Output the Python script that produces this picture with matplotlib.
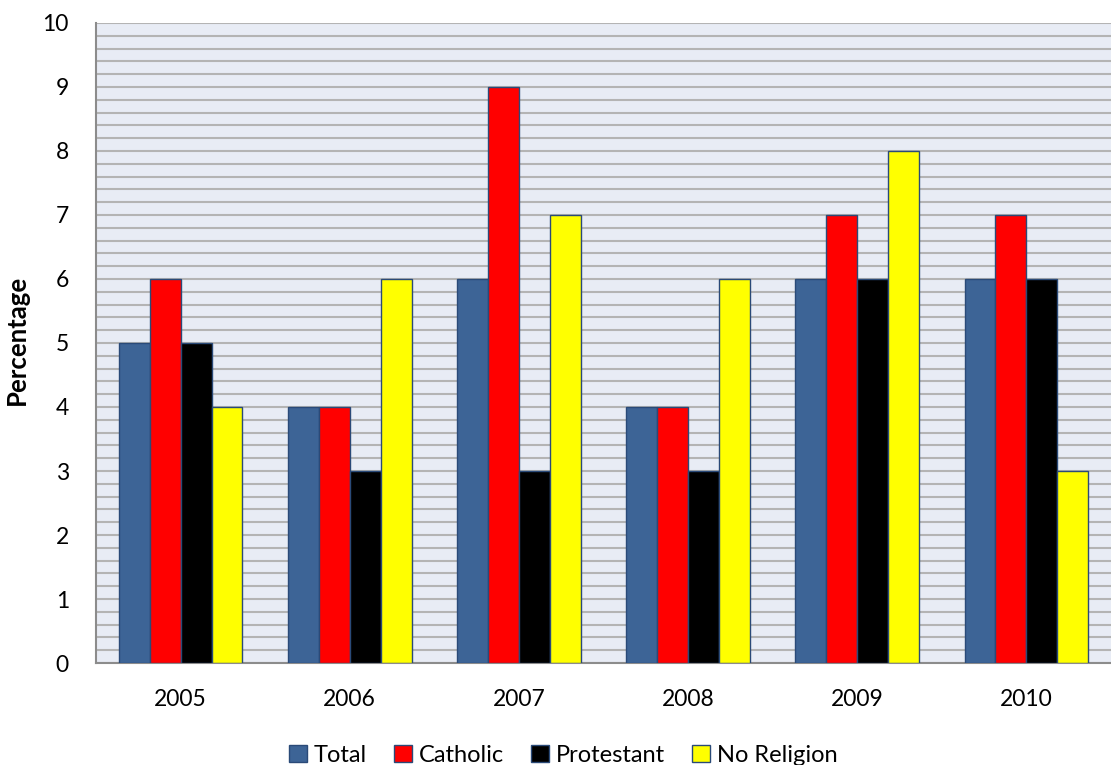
import matplotlib
matplotlib.use("Agg")
import matplotlib.pyplot as plt
import numpy as np

years = ["2005", "2006", "2007", "2008", "2009", "2010"]
series_names = ["Total", "Catholic", "Protestant", "No Religion"]
total = [5, 4, 6, 4, 6, 6]
catholic = [6, 4, 9, 4, 7, 7]
protestant = [5, 3, 3, 3, 6, 6]
no_religion = [4, 6, 7, 6, 8, 3]
colors = ["#3D6496", "#FF0000", "#000000", "#FFFF00"]

plt.rcParams['font.family'] = ['Lato', 'DejaVu Sans']

fig = plt.figure(figsize=(11.11, 7.65), dpi=100)
ax = fig.add_axes([0.0864, 0.1333, 0.9136, 0.8367])
ax.set_facecolor("#E8ECF5")

x = np.arange(len(years))
w = 0.183
data = [total, catholic, protestant, no_religion]
for i, (vals, c, name) in enumerate(zip(data, colors, series_names)):
    ax.bar(x + (i - 1.5) * w, vals, width=w, color=c, edgecolor="#2A4A78",
           linewidth=1.0, label=name, zorder=3)

ax.set_xlim(-0.5, len(years) - 0.5)
ax.set_ylim(0, 10)
ax.set_yticks(range(0, 11))
ax.set_yticks(np.arange(0, 10.01, 0.2), minor=True)
ax.yaxis.grid(True, which='both', color="#B4B4B4", linewidth=1.5, zorder=0)
ax.set_axisbelow(True)
ax.set_xticks(x)
ax.set_xticklabels(years)
ax.tick_params(axis='both', which='both', length=0, labelsize=16.5)
ax.tick_params(axis='y', pad=19.5)
ax.tick_params(axis='x', pad=19)
for s in ["top", "right"]:
    ax.spines[s].set_visible(False)
for s in ["left", "bottom"]:
    ax.spines[s].set_color("#8C8C8C")
    ax.spines[s].set_linewidth(1.5)
fig.text(17 / 1111, 1 - 340 / 765, "Percentage", rotation=90, fontsize=18.5,
         fontweight="bold", ha="center", va="center")

leg = fig.legend(loc="lower center", ncol=4, bbox_to_anchor=(0.507, -0.029),
                 frameon=False, fontsize=17, handlelength=0.75, handleheight=0.75,
                 handletextpad=0.3, columnspacing=1.15)
plt.savefig("out.png", dpi=100)
